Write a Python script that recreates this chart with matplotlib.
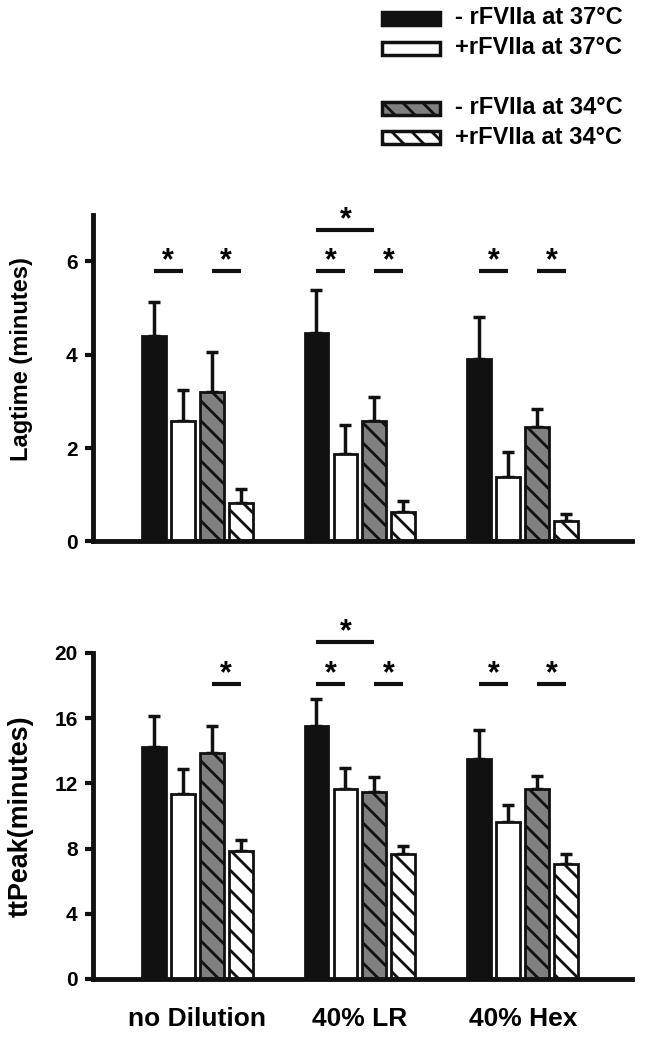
import matplotlib
matplotlib.use("Agg")
import matplotlib.pyplot as plt
from matplotlib.patches import Rectangle
import numpy as np

# dpi 120 so that the hatch spacing comes out close to the original
DPI = 120
PT = 100 / DPI  # scale sizes tuned for a 100 dpi canvas

plt.rcParams["font.family"] = ["Liberation Sans", "DejaVu Sans"]
plt.rcParams["font.weight"] = "bold"
plt.rcParams["hatch.linewidth"] = 2.0 * PT

# Groups and series
groups = ["no Dilution", "40% LR", "40% Hex"]
series = ["- rFVIIa at 37°C", "+rFVIIa at 37°C", "- rFVIIa at 34°C", "+rFVIIa at 34°C"]
faces = ["#111111", "white", "#808080", "white"]
hatches = [None, None, "\\\\", "\\\\"]

# Lagtime (rows = series, columns = groups), upper error only
lag_mean = [[4.41, 4.47, 3.91],
            [2.58, 1.88, 1.38],
            [3.21, 2.58, 2.45],
            [0.82, 0.63, 0.44]]
lag_err = [[0.73, 0.91, 0.91],
           [0.67, 0.61, 0.53],
           [0.84, 0.51, 0.39],
           [0.31, 0.24, 0.14]]
# significance: (group, bar a, bar b, height)
lag_sig = [(0, 0, 1, 5.8), (0, 2, 3, 5.8), (1, 0, 1, 5.8), (1, 2, 3, 5.8),
           (1, 0, 2, 6.67), (2, 0, 1, 5.8), (2, 2, 3, 5.8)]

# ttPeak
tt_mean = [[14.24, 15.51, 13.48],
           [11.36, 11.63, 9.60],
           [13.87, 11.45, 11.63],
           [7.82, 7.65, 7.06]]
tt_err = [[1.86, 1.68, 1.78],
          [1.50, 1.31, 1.05],
          [1.62, 0.96, 0.84],
          [0.69, 0.51, 0.59]]
tt_sig = [(0, 2, 3, 18.1), (1, 0, 1, 18.1), (1, 2, 3, 18.1), (1, 0, 2, 20.65),
          (2, 0, 1, 18.1), (2, 2, 3, 18.1)]

PITCH = 0.178
WIDTH = 0.147
offsets = (np.arange(4) - 1.5) * PITCH
x = np.arange(len(groups))


def draw_panel(ax, means, errs, sig, ylim, yticks, ylabel, label_size, label_y):
    for i in range(4):
        xs = x + offsets[i]
        ax.bar(xs, means[i], width=WIDTH, color=faces[i], edgecolor="#111111",
               linewidth=2 * PT, hatch=hatches[i], zorder=2)
        ax.errorbar(xs, means[i], yerr=[np.zeros(3), errs[i]], fmt="none",
                    ecolor="#111111", elinewidth=2.5 * PT, capsize=4 * PT,
                    capthick=2.5 * PT, zorder=1)
    for g, a, b, h in sig:
        xa, xb = x[g] + offsets[a], x[g] + offsets[b]
        ax.plot([xa, xb], [h, h], color="#111111", lw=3 * PT, clip_on=False,
                solid_capstyle="butt")
        ax.annotate("*", xy=((xa + xb) / 2, h), xytext=(0, 1),
                    textcoords="offset points", ha="center", va="baseline",
                    fontsize=22 * PT, fontweight="bold", annotation_clip=False)
    ax.set_xlim(-0.64, 2.67)
    ax.set_ylim(*ylim)
    ax.set_yticks(yticks)
    ax.spines["top"].set_visible(False)
    ax.spines["right"].set_visible(False)
    for side in ["left", "bottom"]:
        ax.spines[side].set_linewidth(3.5 * PT)
        ax.spines[side].set_color("#111111")
    ax.tick_params(axis="y", direction="out", length=6 * PT, width=3 * PT,
                   labelsize=15 * PT, pad=5 * PT, color="#111111")
    ax.tick_params(axis="x", length=0)
    for lbl in ax.get_yticklabels():
        lbl.set_fontweight("bold")
    ax.set_ylabel(ylabel, fontsize=label_size * PT, fontweight="bold")
    ax.yaxis.set_label_coords(-0.111, label_y)


fig = plt.figure(figsize=(648 / DPI, 1043 / DPI), dpi=DPI)
ax1 = fig.add_axes([0.1435, 0.481, 0.8315, 0.313])
ax2 = fig.add_axes([0.1435, 0.0614, 0.8315, 0.3126])

draw_panel(ax1, lag_mean, lag_err, lag_sig, (0, 7), [0, 2, 4, 6],
           "Lagtime (minutes)", 17, 0.558)
ax1.set_xticks([])

draw_panel(ax2, tt_mean, tt_err, tt_sig, (0, 20), [0, 4, 8, 12, 16, 20],
           "ttPeak(minutes)", 19.4, 0.5)
ax2.set_xticks(x)
ax2.set_xticklabels(groups, fontsize=19 * PT, fontweight="bold")
ax2.tick_params(axis="x", pad=20 * PT)

# Legend drawn by hand in figure pixels
leg_rows = [18, 48, 108, 137]
for i, row in enumerate(leg_rows):
    yb = (1043 - row - 7) / 1043
    fig.patches.append(Rectangle((382 / 648, yb), 58 / 648, 13 / 1043,
                                 transform=fig.transFigure, facecolor=faces[i],
                                 edgecolor="#111111", linewidth=2.5 * PT,
                                 hatch=hatches[i]))
    fig.text(455 / 648, (1043 - row) / 1043, series[i], fontsize=17 * PT,
             fontweight="bold", va="center", ha="left")

fig.savefig("out.png", dpi=DPI)
